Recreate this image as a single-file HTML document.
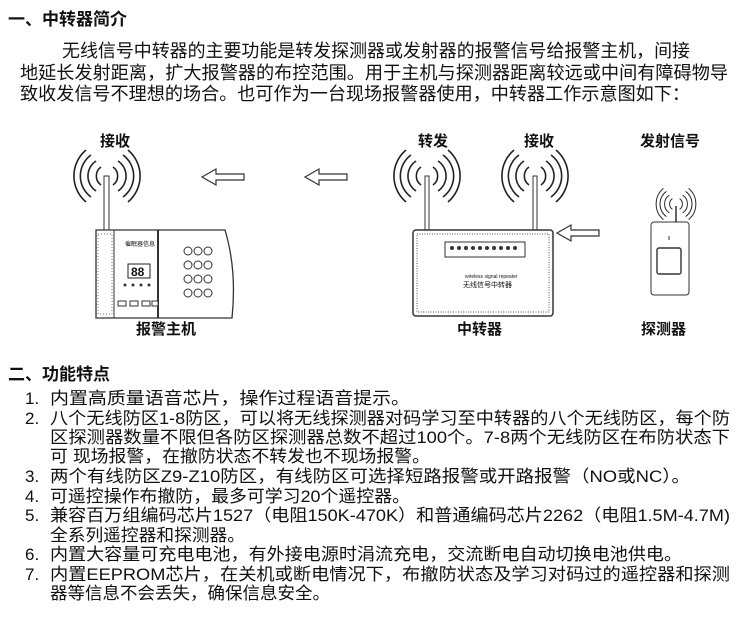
<!DOCTYPE html>
<html><head><meta charset="utf-8"><style>
html,body{margin:0;padding:0;background:#fff}
svg{display:block}
text{font-family:"Liberation Sans","Noto Sans CJK SC",sans-serif;fill:#111}
</style></head><body>
<svg width="750" height="618" viewBox="0 0 750 618" xmlns="http://www.w3.org/2000/svg">
<defs>
<g id="waves" fill="none" stroke="#222" stroke-width="1.6">
  <path d="M-6,-9 A11,11 0 0 0 -6,9"/><path d="M6,-9 A11,11 0 0 1 6,9"/>
  <path d="M-11,-15 A18,18 0 0 0 -11,15"/><path d="M11,-15 A18,18 0 0 1 11,15"/>
  <path d="M-16,-21 A26,26 0 0 0 -16,21"/><path d="M16,-21 A26,26 0 0 1 16,21"/>
  <path d="M-21,-26 A34,34 0 0 0 -21,26"/><path d="M21,-26 A34,34 0 0 1 21,26"/>
</g>
<g id="arrow" fill="#fff" stroke="#333" stroke-width="1.2">
  <path d="M0,0 L14,-8 L14,-3 L42,-3 L42,3 L14,3 L14,8 Z"/>
</g>
</defs>
<text x="8" y="25" font-size="17" font-weight="bold">一、中转器简介</text>
<text x="62" y="57" font-size="18" textLength="628" lengthAdjust="spacingAndGlyphs">无线信号中转器的主要功能是转发探测器或发射器的报警信号给报警主机，间接</text>
<text x="20" y="79" font-size="18" textLength="708" lengthAdjust="spacingAndGlyphs">地延长发射距离，扩大报警器的布控范围。用于主机与探测器距离较远或中间有障碍物导</text>
<text x="20" y="100" font-size="18" textLength="670" lengthAdjust="spacingAndGlyphs">致收发信号不理想的场合。也可作为一台现场报警器使用，中转器工作示意图如下：</text>

<!-- labels -->
<g font-size="15" font-weight="bold">
<text x="100" y="146">接收</text>
<text x="418" y="146">转发</text>
<text x="524" y="146">接收</text>
<text x="640" y="146">发射信号</text>
<text x="136" y="334">报警主机</text>
<text x="457" y="334">中转器</text>
<text x="641" y="334">探测器</text>
</g>

<!-- main unit -->
<use href="#waves" x="107" y="176"/>
<rect x="104" y="176" width="5" height="56" fill="#fff" stroke="#333"/>
<path d="M96,230 L225,230 Q237,270 232,318 L96,318 Z" fill="#fff" stroke="#333" stroke-width="1.3"/>
<line x1="114" y1="230" x2="114" y2="318" stroke="#333"/>
<line x1="158" y1="230" x2="158" y2="318" stroke="#333" stroke-width="2"/>
<rect x="98" y="234" width="14" height="80" fill="none" stroke="#777" stroke-dasharray="1,2"/>
<text x="125" y="246" font-size="6">催眠器信息</text>
<rect x="128" y="264" width="22" height="14" fill="#fff" stroke="#222"/>
<text x="131" y="276" font-size="12" font-weight="bold">88</text>
<g fill="#333"><circle cx="125" cy="285" r="1.5"/><circle cx="133" cy="285" r="1.5"/><circle cx="141" cy="285" r="1.5"/><circle cx="149" cy="285" r="1.5"/></g>
<g fill="#fff" stroke="#333"><rect x="118" y="301" width="8" height="5"/><rect x="130" y="301" width="8" height="5"/><rect x="142" y="301" width="8" height="5"/><rect x="152" y="301" width="6" height="5"/></g>
<g fill="#fff" stroke="#333">
<circle cx="188" cy="251" r="4"/><circle cx="198" cy="251" r="4"/><circle cx="208" cy="251" r="4"/>
<circle cx="188" cy="265" r="4"/><circle cx="198" cy="265" r="4"/><circle cx="208" cy="265" r="4"/>
<circle cx="188" cy="279" r="4"/><circle cx="198" cy="279" r="4"/><circle cx="208" cy="279" r="4"/>
<circle cx="188" cy="293" r="4"/><circle cx="198" cy="293" r="4"/><circle cx="208" cy="293" r="4"/>
</g>

<use href="#arrow" x="202" y="177"/>
<use href="#arrow" x="305" y="177"/>

<!-- relay -->
<use href="#waves" x="427" y="176"/>
<use href="#waves" x="535" y="176"/>
<rect x="425" y="176" width="4" height="54" fill="#fff" stroke="#333"/>
<rect x="533" y="176" width="4" height="54" fill="#fff" stroke="#333"/>
<rect x="413" y="230" width="140" height="86" rx="3" fill="#fff" stroke="#333" stroke-width="1.5"/>
<rect x="417" y="234" width="132" height="78" fill="none" stroke="#555" stroke-dasharray="1,1.5"/>
<rect x="445" y="242" width="80" height="15" fill="#fff" stroke="#333"/>
<g fill="#333"><circle cx="452" cy="248" r="2"/><circle cx="459" cy="248" r="2"/><circle cx="466" cy="248" r="2"/><circle cx="473" cy="248" r="2"/><circle cx="480" cy="248" r="2"/><circle cx="487" cy="248" r="2"/><circle cx="494" cy="248" r="2"/><circle cx="501" cy="248" r="2"/><circle cx="508" cy="248" r="2"/><circle cx="515" cy="248" r="2"/></g>
<text x="465" y="278" font-size="5">wireless signal repeater</text>
<text x="463" y="287" font-size="7">无线信号中转器</text>

<use href="#arrow" x="557" y="233"/>

<!-- detector -->
<use href="#waves" x="676" y="204" transform="translate(676 204) scale(0.6) translate(-676 -204)"/>
<line x1="676" y1="206" x2="676" y2="222" stroke="#333" stroke-width="1.5"/>
<rect x="651" y="222" width="38" height="73" rx="3" fill="#fff" stroke="#333"/>
<rect x="657" y="248" width="24" height="26" rx="2" fill="#fff" stroke="#333" stroke-width="1.4"/>
<line x1="669" y1="236" x2="669" y2="240" stroke="#333"/>

<text x="8" y="380" font-size="17" font-weight="bold">二、功能特点</text>
<g font-size="17">
<text x="25" y="404">1.</text><text x="50" y="404" textLength="360" lengthAdjust="spacingAndGlyphs">内置高质量语音芯片，操作过程语音提示。</text>
<text x="25" y="424">2.</text><text x="50" y="424" textLength="680" lengthAdjust="spacingAndGlyphs">八个无线防区1-8防区，可以将无线探测器对码学习至中转器的八个无线防区，每个防</text>
<text x="50" y="443" textLength="680" lengthAdjust="spacingAndGlyphs">区探测器数量不限但各防区探测器总数不超过100个。7-8两个无线防区在布防状态下</text>
<text x="50" y="462" textLength="380" lengthAdjust="spacingAndGlyphs">可 现场报警，在撤防状态不转发也不现场报警。</text>
<text x="25" y="482">3.</text><text x="50" y="482" textLength="640" lengthAdjust="spacingAndGlyphs">两个有线防区Z9-Z10防区，有线防区可选择短路报警或开路报警（NO或NC）。</text>
<text x="25" y="502">4.</text><text x="50" y="502" textLength="360" lengthAdjust="spacingAndGlyphs">可遥控操作布撤防，最多可学习20个遥控器。</text>
<text x="25" y="521">5.</text><text x="50" y="521" textLength="680" lengthAdjust="spacingAndGlyphs">兼容百万组编码芯片1527（电阻150K-470K）和普通编码芯片2262（电阻1.5M-4.7M)</text>
<text x="50" y="541" textLength="195" lengthAdjust="spacingAndGlyphs">全系列遥控器和探测器。</text>
<text x="25" y="560">6.</text><text x="50" y="560" textLength="632" lengthAdjust="spacingAndGlyphs">内置大容量可充电电池，有外接电源时涓流充电，交流断电自动切换电池供电。</text>
<text x="25" y="580">7.</text><text x="50" y="580" textLength="680" lengthAdjust="spacingAndGlyphs">内置EEPROM芯片，在关机或断电情况下，布撤防状态及学习对码过的遥控器和探测</text>
<text x="50" y="599" textLength="280" lengthAdjust="spacingAndGlyphs">器等信息不会丢失，确保信息安全。</text>
</g>
</svg>
</body></html>
